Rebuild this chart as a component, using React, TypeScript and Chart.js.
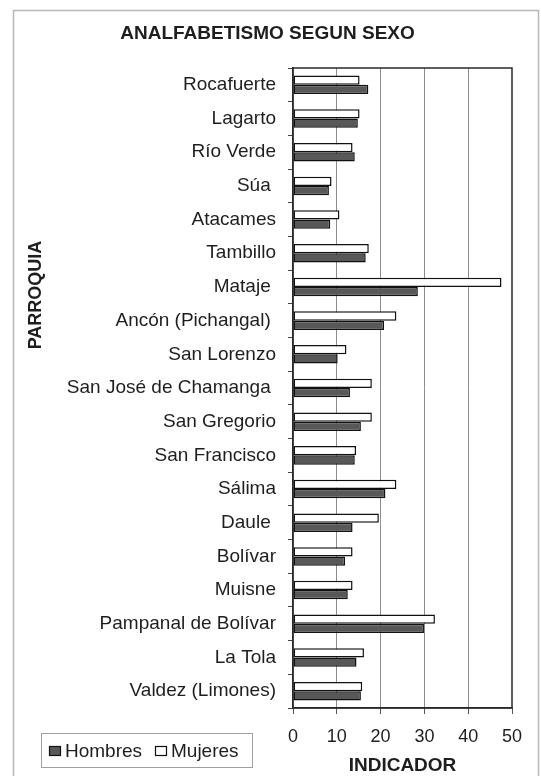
import React, { useEffect, useRef } from "react";
import { Chart, registerables } from "chart.js";

Chart.register(...registerables);

const categories = [
  "Rocafuerte",
  "Lagarto",
  "Río Verde",
  "Súa ",
  "Atacames",
  "Tambillo",
  "Mataje ",
  "Ancón (Pichangal) ",
  "San Lorenzo",
  "San José de Chamanga ",
  "San Gregorio",
  "San Francisco",
  "Sálima",
  "Daule ",
  "Bolívar",
  "Muisne",
  "Pampanal de Bolívar",
  "La Tola",
  "Valdez (Limones)",
];

const hombres = [17.2, 14.8, 14.1, 8.2, 8.5, 16.6, 28.5, 20.8, 10.2, 13.0, 15.5, 14.1, 21.1, 13.6, 11.9, 12.5, 29.9, 14.5, 15.5];
const mujeres = [15.2, 15.2, 13.6, 8.8, 10.6, 17.3, 47.6, 23.6, 12.2, 18.0, 18.0, 14.4, 23.6, 19.6, 13.6, 13.6, 32.4, 16.2, 15.8];

const xTicks = [0, 10, 20, 30, 40, 50];

const title = "ANALFABETISMO SEGUN SEXO";
const xTitle = "INDICADOR";
const yTitle = "PARROQUIA";
const legendOrder = ["Hombres", "Mujeres"];

const FONT = "'Liberation Sans', Arial, Helvetica, sans-serif";
const TEXT = "#1e1e1e";

const decorPlugin = {
  id: "decor",
  beforeDraw(chart: any) {
    const ctx = chart.ctx;
    ctx.save();
    ctx.fillStyle = "#ffffff";
    ctx.fillRect(0, 0, chart.width, chart.height);
    // outer frame
    ctx.strokeStyle = "#b8b8b8";
    ctx.lineWidth = 1.5;
    ctx.strokeRect(13.5, 10.5, 525, 820);
    ctx.restore();
  },
  afterDraw(chart: any) {
    const ctx = chart.ctx;
    const ca = chart.chartArea;
    ctx.save();
    // plot frame
    ctx.strokeStyle = "#2a2a2a";
    ctx.lineWidth = 1.5;
    ctx.strokeRect(ca.left, ca.top, ca.right - ca.left, ca.bottom - ca.top);

    // title
    ctx.fillStyle = TEXT;
    ctx.font = `bold 19px ${FONT}`;
    ctx.textAlign = "center";
    ctx.textBaseline = "middle";
    ctx.fillText(title, 267.5, 34);

    // x title
    ctx.fillText(xTitle, (ca.left + ca.right) / 2, 766);

    // y title
    ctx.save();
    ctx.translate(36, 295);
    ctx.rotate(-Math.PI / 2);
    ctx.font = `bold 18px ${FONT}`;
    ctx.fillText(yTitle, 0, 0);
    ctx.restore();

    // legend
    ctx.strokeStyle = "#a0a0a0";
    ctx.lineWidth = 1;
    ctx.strokeRect(41.5, 733.5, 211, 34);
    const ds = chart.data.datasets;
    const xs = [49, 155];
    ctx.font = `19px ${FONT}`;
    ctx.textAlign = "left";
    legendOrder.forEach((name, i) => {
      const d = ds.find((q: any) => q.label === name);
      ctx.fillStyle = d.backgroundColor;
      ctx.fillRect(xs[i], 746, 12, 10);
      ctx.strokeStyle = "#111";
      ctx.lineWidth = 1.2;
      ctx.strokeRect(xs[i] + 0.5, 746.5, 11, 9);
      ctx.fillStyle = TEXT;
      ctx.fillText(name, xs[i] + 16, 751.5);
    });
    ctx.restore();
  },
};

export default function App() {
  const ref = useRef<HTMLCanvasElement | null>(null);

  useEffect(() => {
    if (!ref.current) return;
    const chart = new Chart(ref.current, {
      type: "bar",
      data: {
        labels: categories,
        datasets: [
          {
            label: "Mujeres",
            data: mujeres,
            backgroundColor: "#ffffff",
            borderColor: "#111111",
            borderWidth: 1.5,
            borderSkipped: false,
            categoryPercentage: 0.55,
            barPercentage: 1,
          },
          {
            label: "Hombres",
            data: hombres,
            backgroundColor: "#585858",
            borderColor: "#111111",
            borderWidth: 1.5,
            borderSkipped: false,
            categoryPercentage: 0.55,
            barPercentage: 1,
          },
        ],
      },
      options: {
        indexAxis: "y",
        responsive: false,
        animation: false,
        layout: { padding: { left: 0, right: 29, top: 68, bottom: 0 } },
        plugins: {
          legend: { display: false },
          title: { display: false },
          tooltip: { enabled: false },
        },
        scales: {
          x: {
            type: "linear",
            min: 0,
            max: 50,
            afterBuildTicks: (s: any) => {
              s.ticks = xTicks.map((v) => ({ value: v }));
            },
            afterFit: (s: any) => {
              s.height = 68;
            },
            ticks: {
              color: TEXT,
              font: { family: FONT, size: 18 },
              padding: 12,
            },
            grid: {
              color: (c: any) =>
                c.tick && (c.tick.value === 0 || c.tick.value === 50) ? "rgba(0,0,0,0)" : "#8c8c8c",
              tickColor: "#555",
              tickLength: 6,
              lineWidth: 1,
            },
            border: { display: true, color: "#2a2a2a", width: 1.5 },
          },
          y: {
            type: "category",
            afterFit: (s: any) => {
              s.width = 293;
            },
            ticks: {
              color: TEXT,
              font: { family: FONT, size: 19 },
              padding: 12,
              autoSkip: false,
            },
            grid: {
              display: true,
              drawOnChartArea: false,
              drawTicks: true,
              tickLength: 5,
              offset: true,
              tickColor: "#444",
            },
            border: { display: true, color: "#2a2a2a", width: 1.5 },
          },
        },
      },
      plugins: [decorPlugin],
    });
    return () => chart.destroy();
  }, []);

  return (
    <div style={{ position: "absolute", left: 0, top: 0, width: 541, height: 776, background: "#fff" }}>
      <canvas ref={ref} width={541} height={776} style={{ display: "block" }} />
    </div>
  );
}
